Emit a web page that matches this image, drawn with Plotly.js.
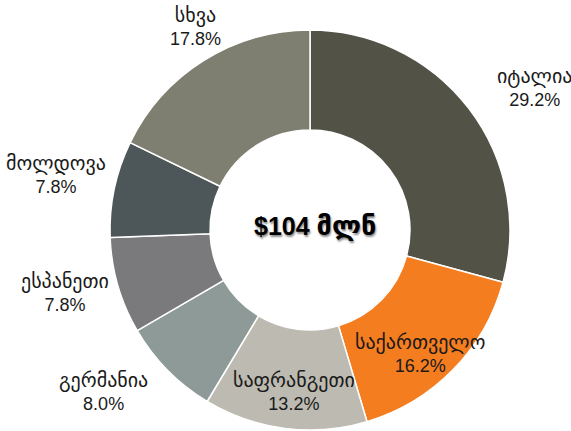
<!DOCTYPE html>
<html>
<head>
<meta charset="utf-8">
<script src="https://cdn.plot.ly/plotly-3.0.1.min.js"></script>
<style>html,body{margin:0;padding:0;background:#fff;}#chart{width:571px;height:431px;}</style>
</head>
<body>
<div id="chart"></div>
<script>
// Data
const countries = ["იტალია", "საქართველო", "საფრანგეთი", "გერმანია", "ესპანეთი", "მოლდოვა", "სხვა"];
const shares = [29.2, 16.2, 13.2, 8.0, 7.8, 7.8, 17.8];
const centerLabel = "$104 მლნ";

// Styles / layout config
const colors = ["#535246", "#F47D20", "#BCBAB1", "#8E9A98", "#7A797B", "#4D5759", "#7F7F71"];
const labelRadius = [266, 166, 162, 262, 253, 260, 233];      // px from centre
const labelAngleShift = [5, 4, -1.5, 6.7, 2, 0.5, 2.7];         // degrees

const W = 571, H = 431;
const M = {l: 110, r: 61, t: 30, b: 1};
const pw = W - M.l - M.r, ph = H - M.t - M.b;
const cx = M.l + pw / 2, cy = M.t + ph / 2;

const total = shares.reduce((a, b) => a + b, 0);
const annotations = [];
let cum = 0;
shares.forEach((v, i) => {
  const mid = (cum + v / 2) / total * 360 + labelAngleShift[i];
  cum += v;
  const rad = mid * Math.PI / 180;
  const px = cx + labelRadius[i] * Math.sin(rad);
  const py = cy - labelRadius[i] * Math.cos(rad);
  annotations.push({
    xref: 'paper', yref: 'paper',
    x: (px - M.l) / pw, y: 1 - (py - M.t) / ph,
    xanchor: 'center', yanchor: 'middle',
    text: '<span style="font-size:20px">' + countries[i] + '</span><br>' + v.toFixed(1) + '%',
    showarrow: false,
    font: {family: 'Liberation Sans, Arial, DejaVu Sans, sans-serif', size: 18, color: '#1a1a1a'}
  });
});
annotations.push({
  xref: 'paper', yref: 'paper',
  x: (315 - M.l) / pw, y: 1 - (226 - M.t) / ph,
  xanchor: 'center', yanchor: 'middle',
  text: '<b>$104 <span style="font-size:27px">' + centerLabel.split(' ')[1] + '</span></b>',
  showarrow: false,
  font: {family: 'Liberation Sans, Arial, DejaVu Sans, sans-serif', size: 25, color: '#000',
         shadow: '1px 2px 2px rgba(0,0,0,0.45)'}
});

const trace = {
  type: 'pie',
  labels: countries,
  values: shares,
  hole: 0.5,
  sort: false,
  direction: 'clockwise',
  rotation: 0,
  textinfo: 'none',
  hoverinfo: 'label+percent',
  marker: {colors: colors, line: {color: '#ffffff', width: 1.5}},
  showlegend: false,
  domain: {x: [0, 1], y: [0, 1]}
};

Plotly.newPlot('chart', [trace], {
  width: W, height: H,
  margin: M,
  paper_bgcolor: '#ffffff',
  plot_bgcolor: '#ffffff',
  showlegend: false,
  annotations: annotations
}, {displayModeBar: false, staticPlot: true});
</script>
</body>
</html>
